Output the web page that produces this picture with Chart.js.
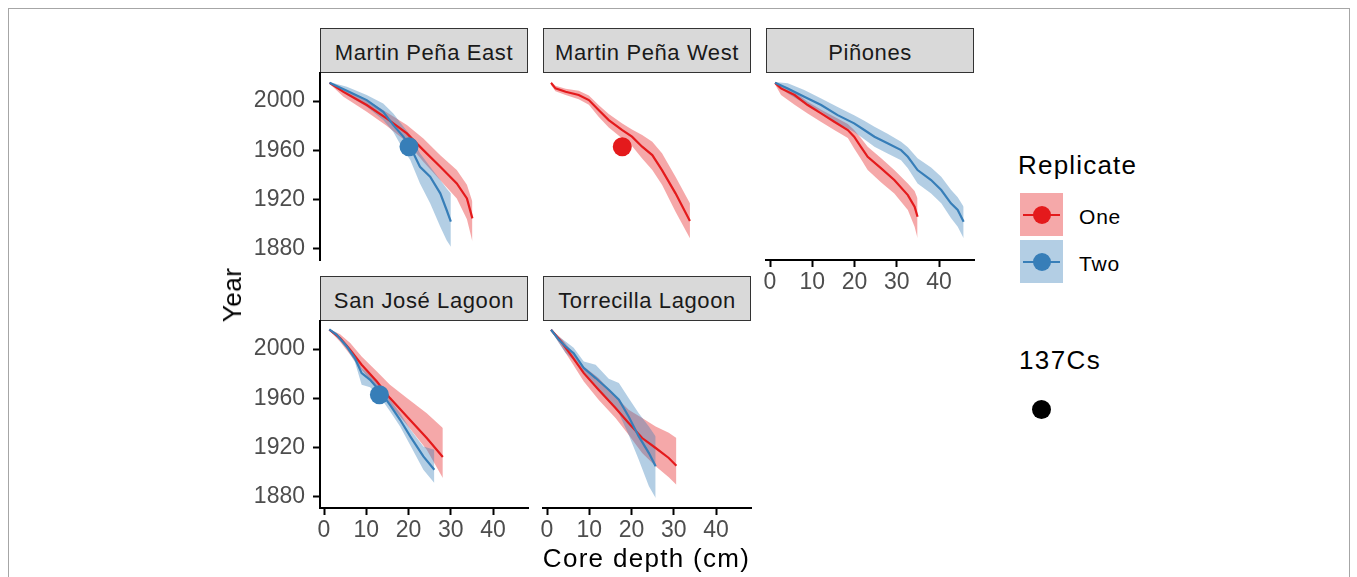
<!DOCTYPE html>
<html>
<head>
<meta charset="utf-8">
<script src="https://cdn.jsdelivr.net/npm/chart.js@4.4.1/dist/chart.umd.min.js"></script>
<style>
  body { margin: 0; background: #fff; font-family: "Liberation Sans", Arial, sans-serif; }
  #page { position: relative; width: 1357px; height: 577px; overflow: hidden; }
  .frame { position: absolute; left: 8px; top: 8px; width: 1340px; height: 640px; border: 1px solid #a6a6a6; }
  .strip { position: absolute; width: 208px; height: 45px; background: #d9d9d9; border: 1px solid #333; box-sizing: border-box;
           font-size: 22px; color: #1a1a1a; text-align: center; line-height: 47px; letter-spacing: 0.6px; white-space: nowrap; }
  .panel { position: absolute; }
  .txt { position: absolute; white-space: nowrap; line-height: 1; color: #000; }
  .key { position: absolute; left: 1020px; width: 43px; height: 43px; }
  .keyline { position: absolute; left: 3px; width: 37px; height: 2px; top: 20.5px; }
  .keydot { position: absolute; left: 12.5px; top: 12.5px; width: 18px; height: 18px; border-radius: 50%; }
</style>
</head>
<body>
<div id="page">
  <div class="frame"></div>
</div>
<script>
const depthTicks = [0, 10, 20, 30, 40];
const yearTicks = [1880, 1920, 1960, 2000];
const sites = ["Martin Peña East", "Martin Peña West", "Piñones", "San José Lagoon", "Torrecilla Lagoon"];
const replicates = ["One", "Two"];
const csYear = 1963;

// Martin Peña East
const mpeDepthOne = [1.3, 4.6, 10.1, 14.8, 19.6, 23.5, 27.5, 31.4, 33.8, 35.1];
const mpeYearOne = [2014.8, 2007.5, 1996.8, 1986, 1973.8, 1960.2, 1946.7, 1933.2, 1921, 1904.8];
const mpeLoOne = [2014, 2003.5, 1991.3, 1980, 1966.8, 1950.7, 1935.7, 1921, 1904, 1886];
const mpeHiOne = [2015.5, 2009, 2001, 1991, 1980.5, 1969.7, 1956, 1944, 1932, 1918.3];
const mpeDepthTwo = [1.3, 5.4, 10.1, 14, 16.4, 18.8, 20.4, 22.7, 25.1, 27.5, 29, 30];
const mpeYearTwo = [2014.8, 2008.4, 2000.8, 1991.3, 1980.5, 1971, 1962.9, 1946.7, 1938.6, 1925.1, 1911.6, 1902.1];
const mpeLoTwo = [2014, 2004.9, 1995.4, 1984.6, 1975, 1960.2, 1952.1, 1933.2, 1917, 1898, 1887, 1881.8];
const mpeHiTwo = [2015.5, 2011.6, 2004.9, 1998, 1990, 1979.2, 1972.4, 1957.6, 1946.7, 1935.9, 1929, 1925];

// Martin Peña West
const mpwDepthOne = [0.95, 2, 4.4, 7.5, 9.9, 12.2, 14.6, 17.8, 20.1, 22.5, 24.9, 27.2, 30.4, 33.8];
const mpwYearOne = [2014.8, 2010.3, 2007.6, 2004.9, 2000.8, 1992.7, 1984.6, 1976.5, 1971.1, 1963, 1956.2, 1944, 1925.1, 1902.6];
const mpwLoOne = [2013, 2008, 2005, 2001.4, 1997, 1987.3, 1978.5, 1969.7, 1963.5, 1953.4, 1944, 1932, 1910.2, 1888.6];
const mpwHiOne = [2016, 2012.5, 2010, 2008.4, 2004.5, 1996.8, 1989.5, 1981.9, 1977, 1972.4, 1967, 1957.6, 1938.6, 1917];

// Piñones
const pinDepthOne = [1.2, 2.6, 5.8, 8.9, 12.1, 15.2, 18.4, 19.9, 21.5, 23.1, 26.3, 29.4, 32.6, 34.2, 34.9];
const pinYearOne = [2014.8, 2010.3, 2004.9, 1996.8, 1990, 1983.2, 1976.5, 1971.1, 1962.9, 1954.8, 1945.4, 1935.9, 1923.7, 1914.2, 1906.1];
const pinLoOne = [2013.5, 2005, 1997, 1990, 1983, 1976.5, 1970, 1961.6, 1953, 1944, 1934, 1925, 1911.6, 1898, 1888.6];
const pinHiOne = [2015.5, 2012, 2007.6, 1999.5, 1993, 1987.3, 1981.5, 1976.5, 1970, 1962.9, 1953.5, 1944, 1933.2, 1927, 1921];
const pinDepthTwo = [1.2, 4.2, 8.1, 12.1, 16, 19.9, 22.3, 24.7, 27.8, 31, 32.6, 34.9, 38.1, 40.5, 42.8, 44.4, 45.8];
const pinYearTwo = [2014.8, 2010.3, 2003.5, 1996.8, 1988.6, 1981.9, 1976.5, 1971.1, 1965.7, 1960.2, 1954.8, 1944, 1935.9, 1927.8, 1917, 1911.6, 1902.1];
const pinLoTwo = [2014, 2006.2, 1998, 1991.3, 1982, 1975, 1969, 1963, 1957.5, 1952, 1945.5, 1933.2, 1925, 1917, 1905, 1898, 1888.6];
const pinHiTwo = [2015.5, 2014.4, 2008.9, 2002.2, 1995.3, 1988.6, 1984, 1979.2, 1973.5, 1967, 1962.5, 1953.5, 1946, 1938.6, 1928, 1922, 1914.3];

// San José Lagoon
const sjlDepthOne = [1.25, 3.8, 6.2, 8.9, 12.5, 15.6, 19.6, 24.3, 28.1];
const sjlYearOne = [2015.7, 2008.9, 1999.4, 1987.3, 1973.7, 1960.2, 1945.3, 1927.8, 1912.4];
const sjlLoOne = [2015, 2006, 1995.4, 1983.2, 1968.4, 1954.8, 1938.6, 1918.3, 1895.3];
const sjlHiOne = [2016.3, 2012, 2004.9, 1994, 1981.8, 1971, 1960.2, 1948, 1935.9];
const sjlDepthTwo = [1.25, 3, 5.4, 7.3, 8.9, 10.9, 13.3, 15.6, 18, 20.4, 23.5, 26.1];
const sjlYearTwo = [2016, 2011.6, 2002.1, 1992.7, 1980.5, 1975.1, 1965.6, 1954.8, 1942.6, 1929.1, 1912.9, 1902.1];
const sjlLoTwo = [2015.3, 2010, 2000, 1989.5, 1971, 1969, 1961, 1949.5, 1937.2, 1922, 1902, 1891.3];
const sjlHiTwo = [2016.5, 2013, 2004, 1995.5, 1984.6, 1979, 1969.6, 1959, 1948, 1935, 1921, 1918.3];

// Torrecilla Lagoon
const tolDepthOne = [0.95, 3.6, 5.9, 8.7, 12.2, 16.2, 19.3, 22.5, 25.7, 28.8, 30.6];
const tolYearOne = [2015.7, 2004.9, 1994, 1980.5, 1967, 1952.1, 1940, 1927.8, 1919.7, 1911.6, 1905.3];
const tolLoOne = [2015, 2001, 1989, 1973.7, 1958.9, 1944, 1930.5, 1915.6, 1904.8, 1896, 1889.9];
const tolHiOne = [2016.3, 2008, 1998, 1985.9, 1976.5, 1961.6, 1950.7, 1944, 1937.2, 1932, 1927.8];
const tolDepthTwo = [0.95, 2.8, 4.4, 6.3, 8.7, 11.5, 14.6, 17, 19.3, 21.7, 24.1, 25.7];
const tolYearTwo = [2015.7, 2007.5, 2002.1, 1996.7, 1984.6, 1976.5, 1967, 1958.9, 1945.3, 1929.1, 1915.6, 1904.8];
const tolLoTwo = [2015, 2005, 1996.8, 1991, 1980.5, 1971, 1958, 1948, 1930.5, 1910.2, 1888.6, 1879.2];
const tolHiTwo = [2016.3, 2010, 2006.2, 2001, 1990, 1987.3, 1976, 1972.4, 1960.2, 1948, 1937.2, 1929.1];

// 137Cs peak depth (cm) per site, and which replicate it was measured on
const csDepth = [20.1, 17.8, null, 13.1, null];
const csReplicate = ["Two", "One", null, "Two", null];

const colors = { One: "#e41a1c", Two: "#377eb8" };
const ribbons = { One: "rgba(228,26,28,0.38)", Two: "rgba(55,126,184,0.38)" };

const panelData = [
  { One: [mpeDepthOne, mpeYearOne, mpeLoOne, mpeHiOne], Two: [mpeDepthTwo, mpeYearTwo, mpeLoTwo, mpeHiTwo] },
  { One: [mpwDepthOne, mpwYearOne, mpwLoOne, mpwHiOne] },
  { One: [pinDepthOne, pinYearOne, pinLoOne, pinHiOne], Two: [pinDepthTwo, pinYearTwo, pinLoTwo, pinHiTwo] },
  { One: [sjlDepthOne, sjlYearOne, sjlLoOne, sjlHiOne], Two: [sjlDepthTwo, sjlYearTwo, sjlLoTwo, sjlHiTwo] },
  { One: [tolDepthOne, tolYearOne, tolLoOne, tolHiOne], Two: [tolDepthTwo, tolYearTwo, tolLoTwo, tolHiTwo] },
];

// layout
const panelLeft = [320, 543, 766, 320, 543];
const panelTop = [73, 73, 73, 321, 321];
const showY = [true, false, false, true, false];
const showX = [false, false, true, true, true];
const W = 208, H = 187;
const tickFont = { family: "'Liberation Sans', Arial, sans-serif", size: 23 };

const page = document.getElementById("page");

function pts(xs, ys) {
  return xs.map((x, i) => ({ x: x, y: ys[i] }));
}

function addText(str, x, y, size, extra) {
  let d = document.createElement("div");
  d.className = "txt";
  d.textContent = str;
  d.style.left = x + "px";
  d.style.top = y + "px";
  d.style.fontSize = size + "px";
  Object.assign(d.style, extra || {});
  page.appendChild(d);
  return d;
}

// fixed axis size, and no extra room for the end labels
function fixSize(prop, size) {
  return (s) => {
    s[prop] = size;
    s.paddingTop = 0;
    s.paddingBottom = 0;
    s.paddingLeft = 0;
    s.paddingRight = 0;
  };
}

sites.forEach((site, p) => {
  let strip = document.createElement("div");
  strip.className = "strip";
  strip.textContent = site;
  strip.style.left = panelLeft[p] + "px";
  strip.style.top = (panelTop[p] - 45) + "px";
  page.appendChild(strip);

  let box = document.createElement("div");
  box.className = "panel";
  box.style.left = (panelLeft[p] - 80) + "px";
  box.style.top = (panelTop[p] - 10) + "px";
  let canvas = document.createElement("canvas");
  canvas.width = W + 90;
  canvas.height = H + 60;
  box.appendChild(canvas);
  page.appendChild(box);

  let datasets = [];
  // Two first so that it is drawn over One, like ggplot does
  ["Two", "One"].forEach((rep) => {
    let s = panelData[p][rep];
    if (!s) return;
    datasets.push({ data: pts(s[0], s[3]), fill: "+1", backgroundColor: ribbons[rep], borderWidth: 0, pointRadius: 0, order: 3 });
    datasets.push({ data: pts(s[0], s[2]), fill: false, borderWidth: 0, pointRadius: 0, order: 3 });
  });
  ["Two", "One"].forEach((rep) => {
    let s = panelData[p][rep];
    if (!s) return;
    datasets.push({ data: pts(s[0], s[1]), fill: false, borderColor: colors[rep], borderWidth: 2.2, pointRadius: 0, tension: 0, order: 2 });
  });
  if (csDepth[p] !== null) {
    let c = colors[csReplicate[p]];
    datasets.push({ data: [{ x: csDepth[p], y: csYear }], showLine: false, pointRadius: 9.5, pointBackgroundColor: c, pointBorderWidth: 0, order: 1 });
  }

  new Chart(canvas, {
    type: "line",
    data: { datasets: datasets },
    options: {
      responsive: false,
      animation: false,
      devicePixelRatio: 1,
      events: [],
      layout: { padding: { top: 10, right: 10, left: 0, bottom: 0 } },
      plugins: { legend: { display: false }, tooltip: { enabled: false } },
      scales: {
        x: {
          type: "linear",
          min: -0.95,
          max: 48.25,
          afterFit: fixSize("height", 50),
          afterBuildTicks: (s) => { s.ticks = depthTicks.map((v) => ({ value: v })); },
          border: { display: showX[p], color: "#000", width: 2 },
          grid: { display: showX[p], drawOnChartArea: false, tickLength: 7, tickWidth: 2, tickColor: "#000" },
          ticks: { display: showX[p], autoSkip: false, maxRotation: 0, padding: 2, color: "#4d4d4d", font: tickFont,
                   callback: (v) => String(v) },
        },
        y: {
          type: "linear",
          min: 1871,
          max: 2022.8,
          afterFit: fixSize("width", 80),
          afterBuildTicks: (s) => { s.ticks = yearTicks.map((v) => ({ value: v })); },
          border: { display: showY[p], color: "#000", width: 2 },
          grid: { display: showY[p], drawOnChartArea: false, tickLength: 7, tickWidth: 2, tickColor: "#000" },
          ticks: { display: showY[p], padding: 8, color: "#4d4d4d", font: tickFont, callback: (v) => String(v) },
        },
      },
    },
  });
});

// axis titles
addText("Year", 232, 295, 26, { transform: "translate(-50%,-50%) rotate(-90deg)", letterSpacing: "0.5px" });
addText("Core depth (cm)", 646.5, 558, 26, { transform: "translate(-50%,-50%)", letterSpacing: "1.3px" });

// legend
addText("Replicate", 1018, 165, 26, { transform: "translateY(-50%)", letterSpacing: "1.2px" });
replicates.forEach((rep, i) => {
  let k = document.createElement("div");
  k.className = "key";
  k.style.top = (193 + i * 47) + "px";
  k.style.background = ribbons[rep];
  let l = document.createElement("div");
  l.className = "keyline";
  l.style.background = colors[rep];
  let d = document.createElement("div");
  d.className = "keydot";
  d.style.background = colors[rep];
  k.appendChild(l);
  k.appendChild(d);
  page.appendChild(k);
  addText(rep, 1079, 216 + i * 47, 21, { transform: "translateY(-50%)", letterSpacing: "0.8px" });
});
addText("137Cs", 1019, 360, 26, { transform: "translateY(-50%)", letterSpacing: "1.4px" });
let cs = document.createElement("div");
cs.style.cssText = "position:absolute;left:1032px;top:400px;width:19px;height:19px;border-radius:50%;background:#000;";
page.appendChild(cs);
</script>
</body>
</html>
